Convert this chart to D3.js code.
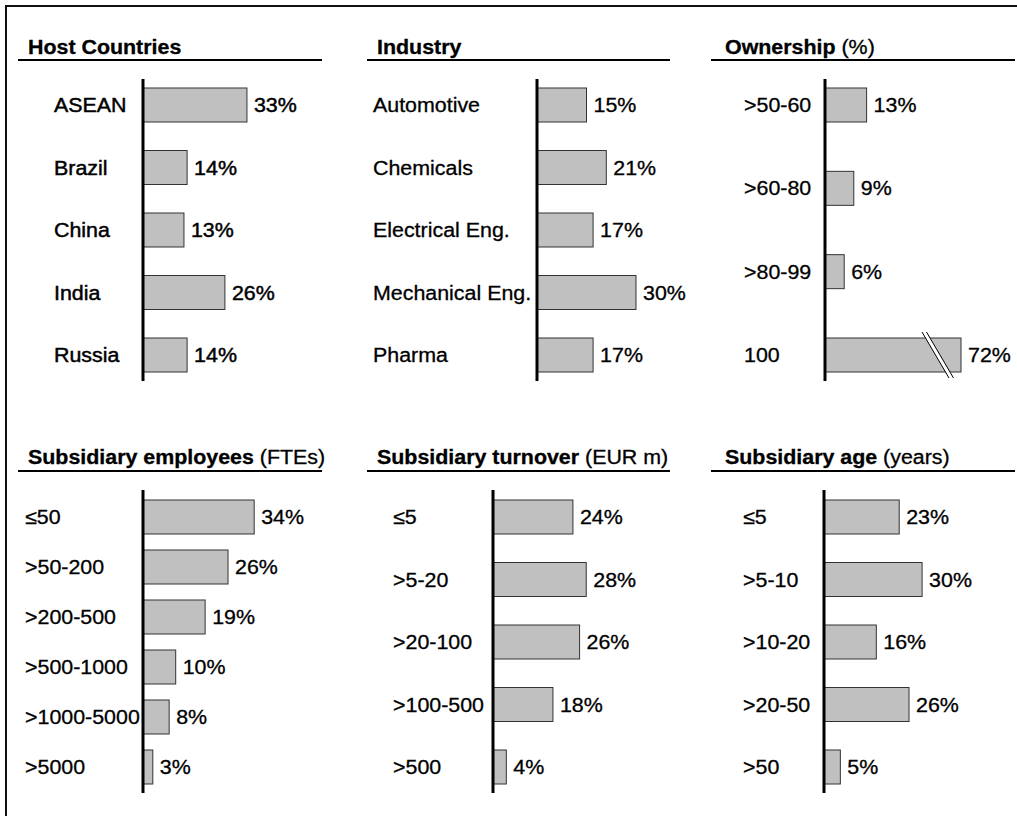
<!DOCTYPE html>
<html lang="en">
<head>
<meta charset="utf-8" />
<title>Subsidiary profile</title>
<script src="https://d3js.org/d3.v7.min.js"></script>
<style>
    body { margin: 0; background: #fff; }
    text { font-family: "Liberation Sans", Arial, sans-serif; font-size: 20px; fill: #000; stroke: #000; stroke-width: 0.3; }
    text.heavy { stroke-width: 0.45; }
    .bar { fill: #c0c0c0; stroke: #333; stroke-width: 1; }
</style>
</head>
<body>
<svg id="chart" width="1017" height="816"></svg>
<script>
    // Data (shares in %)
    const hostCountries = ["ASEAN", "Brazil", "China", "India", "Russia"];
    const hostShares = [33, 14, 13, 26, 14];

    const industries = ["Automotive", "Chemicals", "Electrical Eng.", "Mechanical Eng.", "Pharma"];
    const industryShares = [15, 21, 17, 30, 17];

    const ownershipBands = [">50-60", ">60-80", ">80-99", "100"];
    const ownershipShares = [13, 9, 6, 72];

    const employeeBands = ["≤50", ">50-200", ">200-500", ">500-1000", ">1000-5000", ">5000"];
    const employeeShares = [34, 26, 19, 10, 8, 3];

    const turnoverBands = ["≤5", ">5-20", ">20-100", ">100-500", ">500"];
    const turnoverShares = [24, 28, 26, 18, 4];

    const ageBands = ["≤5", ">5-10", ">10-20", ">20-50", ">50"];
    const ageShares = [23, 30, 16, 26, 5];

    // layout
    const svg = d3.select("#chart");
    const stretch = 1.07;     // the original text is a bit wider than plain Arial
    const barH = 34;

    const cols = [
        { titleX: 28, ruleX0: 18, ruleX1: 322 },
        { titleX: 377, ruleX0: 367, ruleX1: 670 },
        { titleX: 725, ruleX0: 711, ruleX1: 1015 }
    ];
    const rows = [
        { titleY: 54, ruleY: 60, barTop: 88, barBottom: 372, axisTop: 79, axisBottom: 381 },
        { titleY: 464, ruleY: 471, barTop: 500, barBottom: 784, axisTop: 490, axisBottom: 793 }
    ];

    const panels = [
        { bold: "Host Countries", note: "", cats: hostCountries, vals: hostShares, col: 0, row: 0, labelX: 54, axisX: 143, k: 3.15, heavy: true },
        { bold: "Industry", note: "", cats: industries, vals: industryShares, col: 1, row: 0, labelX: 373, axisX: 537, k: 3.3 },
        { bold: "Ownership", note: " (%)", cats: ownershipBands, vals: ownershipShares, col: 2, row: 0, labelX: 744, axisX: 825, k: 3.2, cap: 42.5 },
        { bold: "Subsidiary employees", note: " (FTEs)", cats: employeeBands, vals: employeeShares, col: 0, row: 1, labelX: 25, axisX: 143, k: 3.27 },
        { bold: "Subsidiary turnover", note: " (EUR m)", cats: turnoverBands, vals: turnoverShares, col: 1, row: 1, labelX: 393, axisX: 493, k: 3.33 },
        { bold: "Subsidiary age", note: " (years)", cats: ageBands, vals: ageShares, col: 2, row: 1, labelX: 743, axisX: 824, k: 3.27 }
    ];

    // frame (only top and left edges fall inside the picture)
    svg.append("path")
        .attr("d", "M6,820 L6,6 L1020,6")
        .attr("fill", "none")
        .attr("stroke", "#111")
        .attr("stroke-width", 2);

    function stretched(x, y) {
        return "translate(" + x + "," + y + ") scale(" + stretch + ",1)";
    }

    panels.forEach(p => {
        const c = cols[p.col];
        const r = rows[p.row];
        const g = svg.append("g");
        const cls = p.heavy ? "heavy" : null;

        // title + rule
        const t = g.append("text").attr("transform", stretched(c.titleX, r.titleY));
        t.append("tspan").attr("font-weight", "bold").text(p.bold);
        if (p.note) t.append("tspan").text(p.note);
        g.append("line")
            .attr("x1", c.ruleX0).attr("x2", c.ruleX1)
            .attr("y1", r.ruleY).attr("y2", r.ruleY)
            .attr("stroke", "#000").attr("stroke-width", 2);

        // scales
        const step = (r.barBottom - r.barTop - barH) / (p.cats.length - 1);
        const y = d3.scaleBand()
            .domain(p.cats)
            .range([r.barTop, r.barBottom])
            .paddingInner(1 - barH / step)
            .paddingOuter(0);
        const x = d3.scaleLinear()
            .domain([0, 100])
            .range([p.axisX, p.axisX + 100 * p.k]);
        const shown = v => (p.cap && v > p.cap) ? p.cap : v;

        const rowsData = p.cats.map((cat, i) => ({ cat: cat, val: p.vals[i] }));

        g.selectAll("rect.bar")
            .data(rowsData)
            .enter()
            .append("rect")
            .attr("class", "bar")
            .attr("x", x(0))
            .attr("y", d => y(d.cat))
            .attr("width", d => x(shown(d.val)) - x(0))
            .attr("height", y.bandwidth());

        // break marks on capped bars
        rowsData.filter(d => p.cap && d.val > p.cap).forEach(d => {
            const end = x(p.cap);
            const top = y(d.cat) - 6;
            const bot = y(d.cat) + y.bandwidth() + 6;
            const a = [end - 39, top], b = [end - 12, bot];
            const gap = 4.5;
            g.append("polygon")
                .attr("points", [a, b, [b[0] + gap, b[1]], [a[0] + gap, a[1]]].map(q => q.join(",")).join(" "))
                .attr("fill", "#fff");
            [0, gap].forEach(o => {
                g.append("line")
                    .attr("x1", a[0] + o).attr("y1", a[1])
                    .attr("x2", b[0] + o).attr("y2", b[1])
                    .attr("stroke", "#000").attr("stroke-width", 1);
            });
        });

        // category labels
        g.selectAll("text.cat")
            .data(rowsData)
            .enter()
            .append("text")
            .attr("class", cls)
            .attr("transform", d => stretched(p.labelX, y(d.cat) + y.bandwidth() / 2 + 7))
            .text(d => d.cat);

        // value labels
        g.selectAll("text.val")
            .data(rowsData)
            .enter()
            .append("text")
            .attr("class", cls)
            .attr("transform", d => stretched(x(shown(d.val)) + 7, y(d.cat) + y.bandwidth() / 2 + 7))
            .text(d => d.val + "%");

        // vertical axis
        g.append("line")
            .attr("x1", p.axisX).attr("x2", p.axisX)
            .attr("y1", r.axisTop).attr("y2", r.axisBottom)
            .attr("stroke", "#000").attr("stroke-width", 3);
    });
</script>
</body>
</html>
